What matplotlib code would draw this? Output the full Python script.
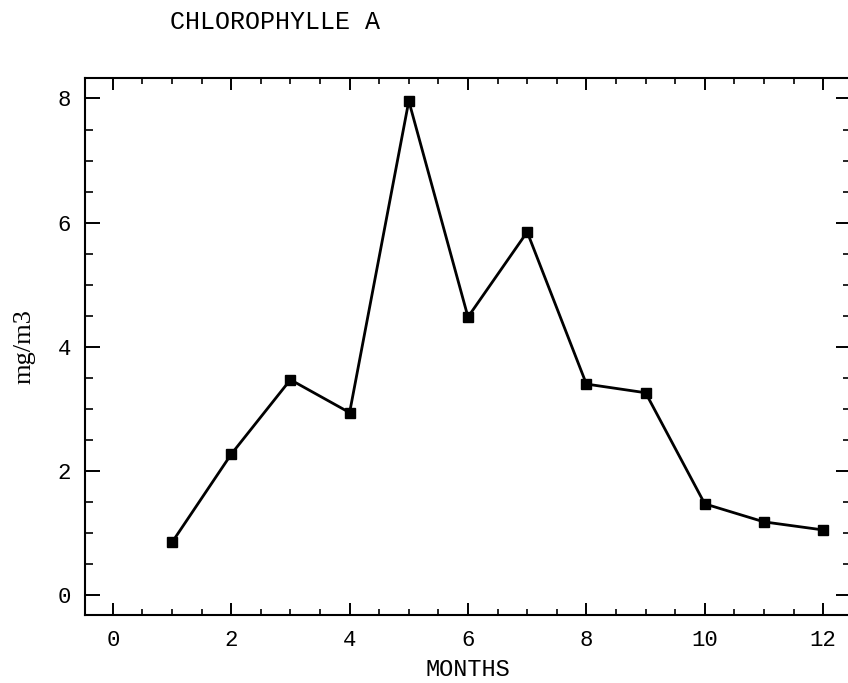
import matplotlib
matplotlib.use("Agg")
import matplotlib.pyplot as plt
from matplotlib.ticker import MultipleLocator

# monthly mean chlorophyll a
months = [1, 2, 3, 4, 5, 6, 7, 8, 9, 10, 11, 12]
chl_a = [0.85, 2.27, 3.47, 2.94, 7.96, 4.48, 5.85, 3.40, 3.26, 1.47, 1.18, 1.05]

mono = "Liberation Mono"
serif = "Liberation Serif"

fig = plt.figure(figsize=(8.48, 6.83), dpi=100)
ax = fig.add_axes([85 / 848, 1 - 615 / 683, 766 / 848, 537 / 683])

ax.plot(months, chl_a, color="black", linewidth=2.0, marker="s",
        markersize=7, markerfacecolor="black", markeredgecolor="black")

ax.set_xlim(-0.47, 12.47)
ax.set_ylim(-0.32, 8.33)

ax.xaxis.set_major_locator(MultipleLocator(2))
ax.xaxis.set_minor_locator(MultipleLocator(0.5))
ax.yaxis.set_major_locator(MultipleLocator(2))
ax.yaxis.set_minor_locator(MultipleLocator(0.5))

ax.tick_params(axis="x", which="major", direction="in", length=8.5, width=1.4,
               top=True, pad=11, labelsize=16)
ax.tick_params(axis="x", which="minor", direction="in", length=4.3, width=1.2,
               top=True)
ax.tick_params(axis="y", which="major", direction="in", length=11, width=1.4,
               right=True, pad=10, labelsize=16)
ax.tick_params(axis="y", which="minor", direction="in", length=5.8, width=1.2,
               right=True)
for lab in ax.get_xticklabels() + ax.get_yticklabels():
    lab.set_fontfamily(mono)

for s in ax.spines.values():
    s.set_linewidth(1.5)

ax.set_xlabel("MONTHS", fontfamily=mono, fontsize=17, labelpad=5)
ax.set_ylabel("mg/m3", fontfamily=serif, fontsize=19, labelpad=16)

fig.text(275 / 848, 1 - 22 / 683, "CHLOROPHYLLE A", fontfamily=mono,
         fontsize=18, ha="center", va="center")

fig.savefig("out.png", dpi=100)
